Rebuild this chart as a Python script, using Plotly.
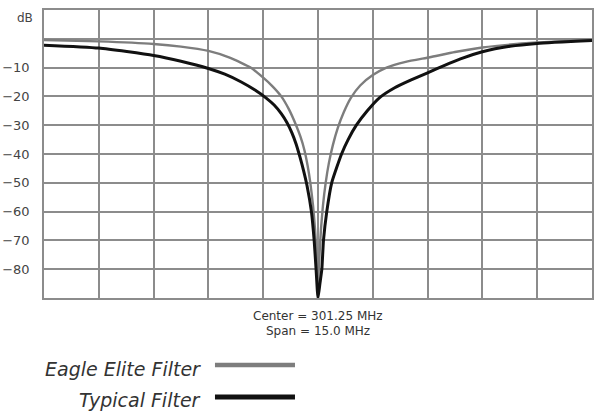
import plotly.graph_objects as go

# Frequency axis (MHz): center 301.25, span 15.0 -> 1.5 MHz per division
CENTER = 301.25
SPAN = 15.0
series_names = ["Eagle Elite Filter", "Typical Filter"]
center_text = ["Center = 301.25 MHz", "Span = 15.0 MHz"]

# positions in grid divisions (0..10)
eagle_div = [0, 1, 2, 2.5, 3, 3.4, 3.77, 4.0, 4.17, 4.33, 4.47, 4.6, 4.68, 4.75, 4.81, 4.86, 4.91, 4.945, 4.97, 4.99, 5.0,
             5.01, 5.03, 5.055, 5.09, 5.14, 5.2, 5.27, 5.36, 5.47, 5.6, 5.77, 6.0, 6.25, 6.6, 7.04, 7.5, 8.0, 9.0, 10]
eagle_db = [-0.4, -0.9, -1.8, -2.7, -4.2, -6.6, -10, -13.5, -16.5, -20, -24.5, -30, -34, -38.5, -44, -50, -58, -66, -74, -82, -90,
            -82, -74, -66, -58, -50, -43, -37, -31, -25.5, -20.5, -16.2, -12.6, -10, -8.0, -6.4, -4.6, -3.0, -1.3, -0.4]

typical_div = [0, 1, 2, 2.5, 3, 3.3, 3.6, 3.85, 4.05, 4.2, 4.33, 4.43, 4.52, 4.6, 4.67, 4.74, 4.8, 4.88, 4.93, 4.965, 5.0,
               5.035, 5.07, 5.1, 5.16, 5.25, 5.43, 5.55, 5.7, 5.9, 6.12, 6.4, 6.7, 7.0, 7.3, 7.6, 8.0, 8.5, 9.0, 10]
typical_db = [-2.2, -3.2, -5.8, -7.8, -10.3, -12.3, -15, -17.8, -20.5, -23, -26, -29, -32.5, -36.5, -41, -46, -51, -60, -70, -80, -90,
              -85, -80, -70, -60, -50, -40, -35, -30, -25, -20.5, -17, -14.3, -11.8, -9.3, -7.0, -4.5, -2.6, -1.6, -0.6]

ytick_vals = [-90, -80, -70, -60, -50, -40, -30, -20, -10, 0, 10]
ytick_text = ["", "\u221280", "\u221270", "\u221260", "\u221250", "\u221240", "\u221230",
              "\u221220", "\u221210", "", ""]

start = CENTER - SPAN / 2
div_mhz = SPAN / 10
eagle_f = [start + d * div_mhz for d in eagle_div]
typical_f = [start + d * div_mhz for d in typical_div]
xtick_vals = [start + i * div_mhz for i in range(11)]

GRID = "#8c8c8c"
FONT = "DejaVu Sans"

fig = go.Figure()
fig.add_trace(go.Scatter(x=eagle_f, y=eagle_db, mode="lines", name=series_names[0],
                         line=dict(color="#7d7d7d", width=2.4, shape="spline", smoothing=0.5)))
fig.add_trace(go.Scatter(x=typical_f, y=typical_db, mode="lines", name=series_names[1],
                         line=dict(color="#111111", width=3, shape="spline", smoothing=0.5)))

fig.update_layout(
    width=606, height=411,
    margin=dict(l=44, r=14, t=10, b=113, autoexpand=False),
    paper_bgcolor="white", plot_bgcolor="white",
    showlegend=False,
    font=dict(family=FONT, color="#333333"),
)
fig.update_xaxes(range=[start, start + SPAN], tickvals=xtick_vals, showticklabels=False,
                 showgrid=True, gridcolor=GRID, gridwidth=1.6, zeroline=False,
                 showline=True, linecolor=GRID, linewidth=1.6, mirror=True, ticks="",
                 automargin=False)
fig.update_yaxes(range=[-90, 10], tickvals=ytick_vals, ticktext=ytick_text,
                 showgrid=True, gridcolor=GRID, gridwidth=1.6, zeroline=False,
                 showline=True, linecolor=GRID, linewidth=1.6, mirror=True, ticks="",
                 tickfont=dict(family=FONT, size=13, color="#444444"), ticklabelstandoff=10,
                 automargin=False)

fig.add_annotation(xref="paper", yref="y", x=-0.035, y=7.2, text="dB", showarrow=False,
                   xanchor="center", yanchor="middle",
                   font=dict(family=FONT, size=12, color="#444444"))
for txt, ty in zip(center_text, [-0.064, -0.116]):
    fig.add_annotation(xref="x", yref="paper", x=CENTER, y=ty, text=txt, showarrow=False,
                       xanchor="center", yanchor="middle",
                       font=dict(family=FONT, size=12, color="#333333"))

# legend drawn below the chart
legend_y = [-0.2465, -0.354]
line_y = [-0.2326, -0.344]
colors = ["#7d7d7d", "#111111"]
widths = [4.5, 5]
for name, ty, ly, c, w in zip(series_names, legend_y, line_y, colors, widths):
    fig.add_annotation(xref="paper", yref="paper", x=0.290, y=ty, text="<i>" + name + "</i>",
                       xanchor="right", yanchor="middle", showarrow=False,
                       font=dict(family=FONT, size=19, color="#333333"))
    fig.add_shape(type="line", xref="paper", yref="paper", x0=0.312, x1=0.458, y0=ly, y1=ly,
                  line=dict(color=c, width=w))

fig.write_html("out.html", config={"displayModeBar": False},
               post_script="document.body.style.margin='0px';")
